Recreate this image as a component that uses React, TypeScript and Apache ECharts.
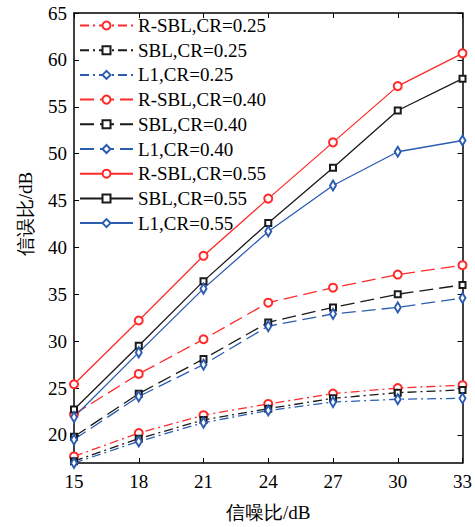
import React, { useEffect, useRef } from "react";
import * as echarts from "echarts";

const xValues = [15, 18, 21, 24, 27, 30, 33];
const yTicks = [20, 25, 30, 35, 40, 45, 50, 55, 60, 65];

const rsbl025 = [17.7, 20.2, 22.1, 23.3, 24.4, 25.0, 25.3];
const sbl025 = [17.2, 19.6, 21.6, 22.8, 23.9, 24.5, 24.8];
const l1025 = [17.0, 19.3, 21.3, 22.6, 23.5, 23.8, 23.9];
const rsbl040 = [22.2, 26.5, 30.2, 34.1, 35.7, 37.1, 38.1];
const sbl040 = [19.8, 24.4, 28.1, 32.0, 33.6, 35.0, 36.0];
const l1040 = [19.5, 24.1, 27.5, 31.6, 32.9, 33.6, 34.6];
const rsbl055 = [25.4, 32.2, 39.1, 45.2, 51.2, 57.2, 60.7];
const sbl055 = [22.7, 29.5, 36.4, 42.6, 48.5, 54.6, 58.0];
const l1055 = [21.9, 28.8, 35.6, 41.7, 46.6, 50.2, 51.4];

const RED = "#ff2a2a";
const BLACK = "#1a1a1a";
const BLUE = "#2a5cb0";
const FONT = "Liberation Serif";

export default function App() {
  const ref = useRef<HTMLDivElement>(null);
  useEffect(() => {
    if (!ref.current) return;
    const chart = echarts.init(ref.current, undefined, { renderer: "svg" });
    const dashDot = [9, 4, 2, 4];
    const dashed = [14, 6];
    const mk = (name: string, vals: number[], color: string, symbol: string, dash: any, size: any) => ({
      name,
      type: "line",
      data: vals.map((v, i) => [xValues[i], v]),
      symbol,
      symbolSize: size,
      showAllSymbol: true,
      lineStyle: { color, width: 1.3, type: dash },
      itemStyle: { color, borderColor: color, borderWidth: 1.1 },
      color,
      z: 3,
    });
    const circ = "emptyCircle";
    const sq = "emptyRect";
    const dia = "emptyDiamond";
    const series = [
      mk("R-SBL,CR=0.25", rsbl025, RED, circ, dashDot, 8),
      mk("SBL,CR=0.25", sbl025, BLACK, sq, dashDot, 6),
      mk("L1,CR=0.25", l1025, BLUE, dia, dashDot, [6, 10]),
      mk("R-SBL,CR=0.40", rsbl040, RED, circ, dashed, 8),
      mk("SBL,CR=0.40", sbl040, BLACK, sq, dashed, 6),
      mk("L1,CR=0.40", l1040, BLUE, dia, dashed, [6, 10]),
      mk("R-SBL,CR=0.55", rsbl055, RED, circ, "solid", 8),
      mk("SBL,CR=0.55", sbl055, BLACK, sq, "solid", 6),
      mk("L1,CR=0.55", l1055, BLUE, dia, "solid", [6, 10]),
    ];
    const axisLine = { show: true, lineStyle: { color: "#000", width: 1.5 } };
    const txt = { fontFamily: FONT, fontSize: 19, color: "#000" };
    chart.setOption({
      animation: false,
      backgroundColor: "#fff",
      textStyle: { fontFamily: FONT, fontSize: 19, color: "#000" },
      grid: { left: 74, right: 9, top: 13, bottom: 54 },
      legend: {
        orient: "vertical",
        left: 79,
        top: 16,
        itemWidth: 53,
        itemHeight: 10,
        itemGap: 5.7,
        padding: 0,
        textStyle: { ...txt, lineHeight: 19 },
        data: series.map((s) => s.name),
      },
      xAxis: [
        {
          type: "value",
          min: 15,
          max: 33,
          interval: 3,
          name: "信噪比/dB",
          nameLocation: "middle",
          nameGap: 40,
          nameTextStyle: txt,
          axisLine,
          axisTick: { inside: true, length: 5, lineStyle: { color: "#000" } },
          axisLabel: { ...txt, margin: 9 },
          splitLine: { show: false },
        },
        {
          type: "value",
          position: "top",
          min: 15,
          max: 33,
          interval: 3,
          axisLine,
          axisTick: { inside: true, length: 5, lineStyle: { color: "#000" } },
          axisLabel: { show: false },
          splitLine: { show: false },
        },
      ],
      yAxis: [
        {
          type: "value",
          min: 17,
          max: 65,
          axisLine,
          axisTick: { inside: true, length: 5, customValues: yTicks, lineStyle: { color: "#000" } },
          axisLabel: { ...txt, margin: 7, customValues: yTicks },
          splitLine: { show: false },
        },
        {
          type: "value",
          position: "right",
          min: 17,
          max: 65,
          axisLine,
          axisTick: { inside: true, length: 5, customValues: yTicks, lineStyle: { color: "#000" } },
          axisLabel: { show: false, customValues: yTicks },
          splitLine: { show: false },
        },
      ],
      graphic: [
        {
          type: "text",
          x: 25,
          y: 214,
          rotation: Math.PI / 2,
          style: {
            text: "信误比/dB",
            fontFamily: FONT,
            fontSize: 19,
            fill: "#000",
            align: "center",
            verticalAlign: "middle",
          },
        },
      ],
      series,
    });
    return () => chart.dispose();
  }, []);
  return <div ref={ref} style={{ width: 475, height: 527, position: "absolute", left: 0, top: 0 }} />;
}
